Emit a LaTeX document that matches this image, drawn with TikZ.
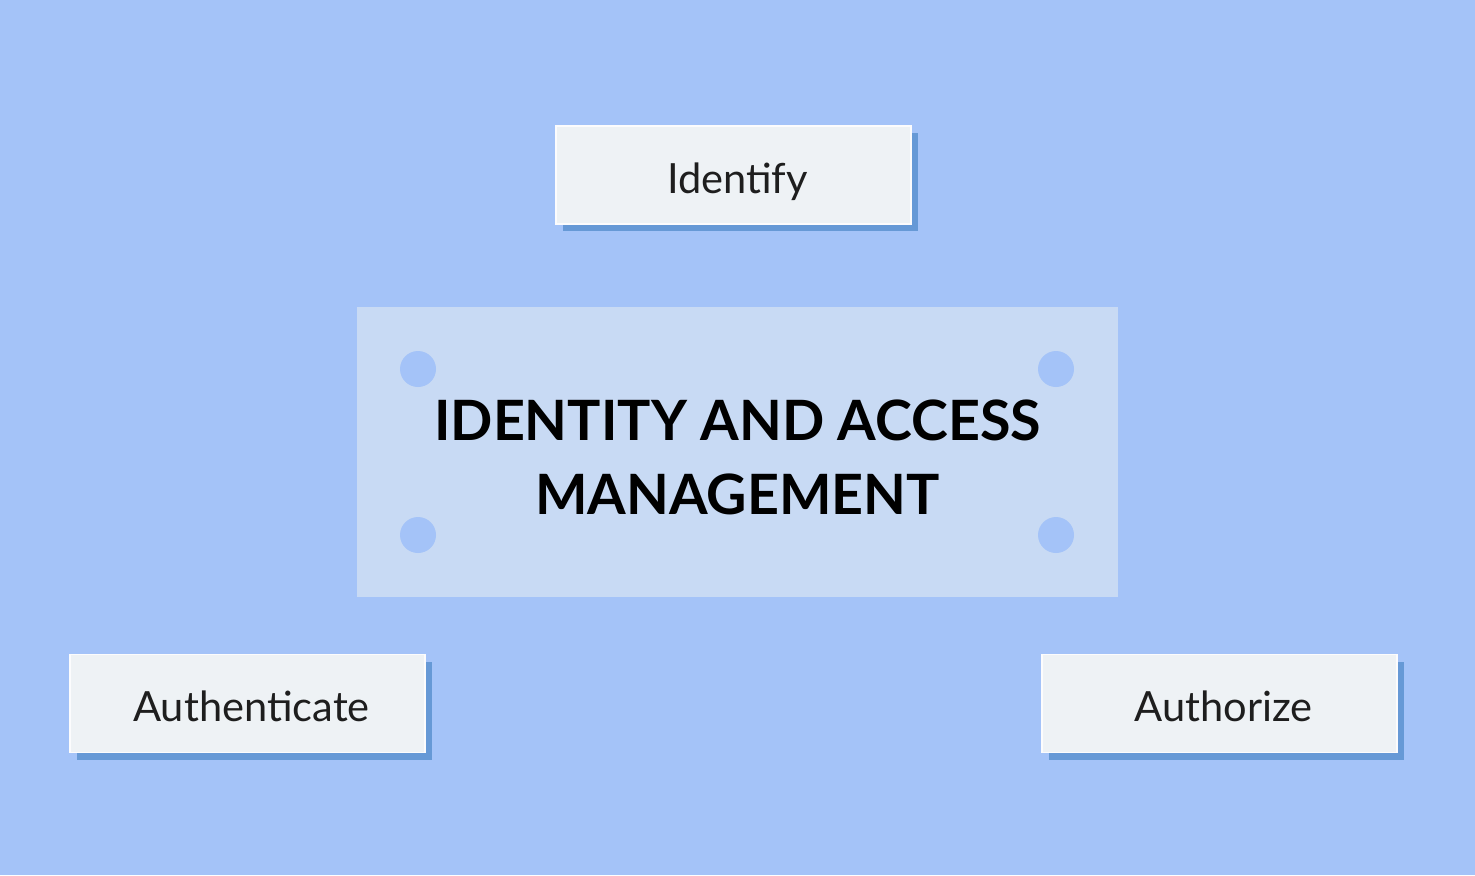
\documentclass[tikz,border=0pt]{standalone}
\usepackage{fontspec}
\setmainfont{Lato}
\usetikzlibrary{shadows}

\definecolor{bgblue}{HTML}{A4C3F8}
\definecolor{panelblue}{HTML}{C8DAF4}
\definecolor{boxgrey}{HTML}{EEF2F5}
\definecolor{shadowblue}{HTML}{6699D6}
\definecolor{textgrey}{HTML}{1E1E1E}

\tikzset{
  stepbox/.style={fill=boxgrey,draw=white!80!boxgrey,line width=0.6pt,
    minimum width=177.5pt,minimum height=49pt,inner sep=0pt,
    text height=18pt,text depth=0pt,
    execute at begin node=\hspace*{4pt},
    font=\fontsize{20.8}{25}\selectfont,text=textgrey,
    drop shadow={shadow xshift=3.5pt,shadow yshift=-3.5pt,fill=shadowblue,opacity=1}},
  panel/.style={fill=panelblue,minimum width=380.5pt,minimum height=145pt,inner sep=0pt},
  dot/.style={circle,fill=bgblue,minimum size=18pt,inner sep=0pt}
}

\begin{document}
\begin{tikzpicture}[x=0.5pt,y=-0.5pt]
     	
     	\fill[bgblue] (0,0) rectangle (1475,875);
     	\useasboundingbox (0,0) rectangle (1475,875);
     	
     	
     	\node[panel] (iam) at (737.5,452) {};
     	\node[dot] (dotnw) at (418,369) {};
     	\node[dot] (dotne) at (1056,369) {};
     	\node[dot] (dotsw) at (418,535) {};
     	\node[dot] (dotse) at (1056,535) {};
     	\node[font=\fontsize{27.8}{37}\selectfont\bfseries,align=center,text=black]
     	(title) at (737.5,457) {IDENTITY AND ACCESS\\MANAGEMENT};
     	
     	
     	\node[stepbox] (identify) at (733.5,175) {Identify};
     	\node[stepbox] (authenticate) at (247.5,703.5) {Authenticate};
     	\node[stepbox] (authorize) at (1219.5,703.5) {Authorize};
     	\end{tikzpicture}
\end{document}
